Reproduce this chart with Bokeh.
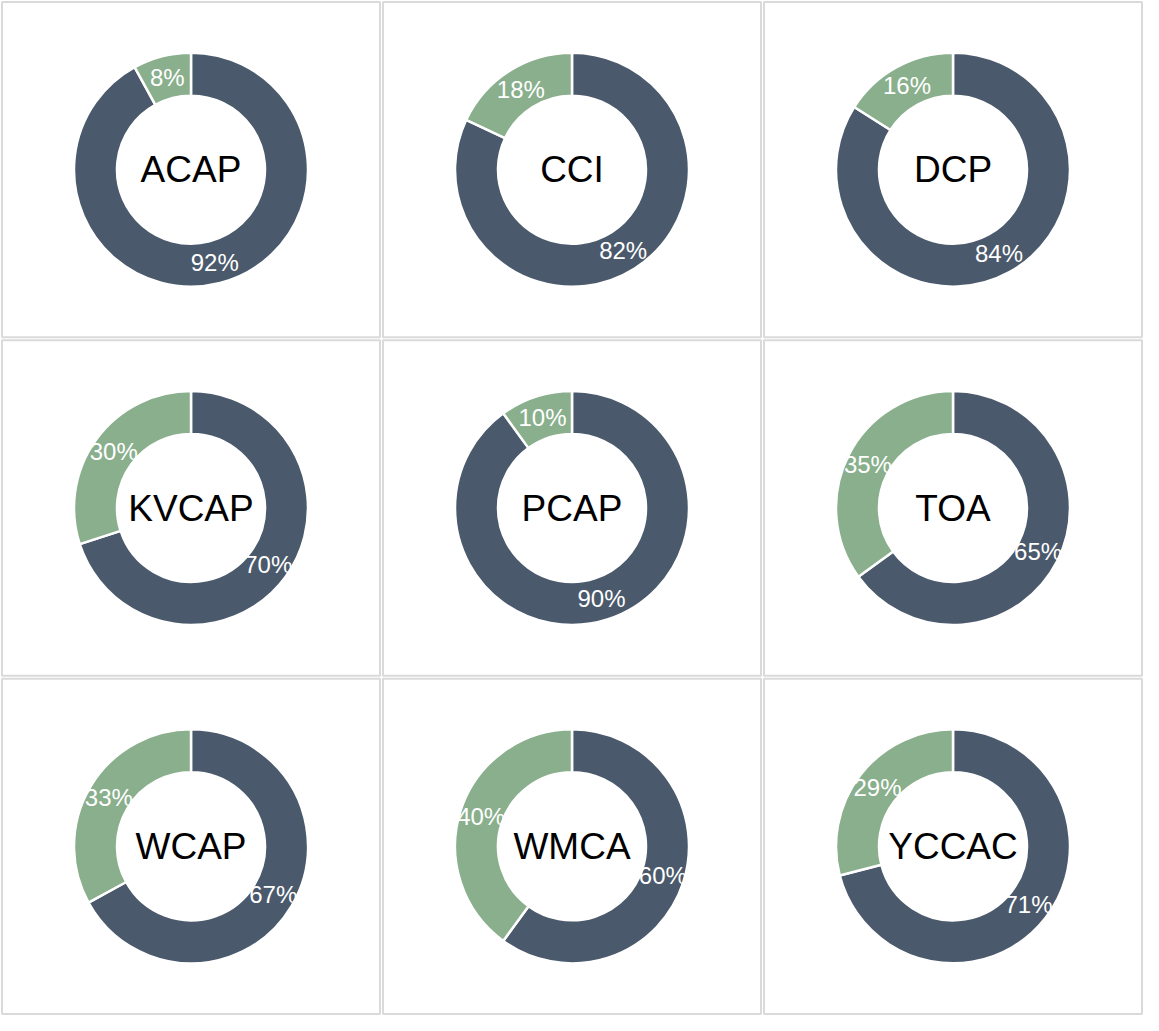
import math
from bokeh.plotting import figure
from bokeh.models import Range1d, ColumnDataSource
from bokeh.core.properties import value
from bokeh.embed import file_html
from bokeh.resources import INLINE

# ---- data ----
names = ["ACAP", "CCI", "DCP", "KVCAP", "PCAP", "TOA", "WCAP", "WMCA", "YCCAC"]
main_pct = [92, 82, 84, 70, 90, 65, 67, 60, 71]
other_pct = [8, 18, 16, 30, 10, 35, 33, 40, 29]

# ---- style ----
DARK = "#4a596b"
GREEN = "#8aaf8d"
BORDER = "#dadada"
FONT = "Liberation Sans"

W, H = 1143, 1015
NCOL = 3
cw, ch = W / NCOL, H / 3
R_OUT, R_IN = 117, 74
R_LAB = (R_OUT + R_IN) / 2

p = figure(width=W, height=H, output_backend="svg", toolbar_location=None,
           x_range=Range1d(0, W), y_range=Range1d(0, H), min_border=0)
p.axis.visible = False
p.grid.visible = False
p.outline_line_color = None
p.background_fill_color = "white"
p.border_fill_color = "white"

# boxes
lefts, rights, tops, bottoms = [], [], [], []
cx, cy = [], []
for k in range(len(names)):
    i, j = k % NCOL, k // NCOL
    lefts.append(i * cw + 1.5)
    rights.append((i + 1) * cw - 1.5)
    tops.append(H - j * ch - 1.5)
    bottoms.append(H - (j + 1) * ch + 1.5)
    cx.append((i + 0.5) * cw)
    cy.append(H - (j + 0.5) * ch)

p.quad(left=lefts, right=rights, top=tops, bottom=bottoms,
       fill_color=None, line_color=BORDER, line_width=2)

# wedges: main slice clockwise from 12 o'clock, other slice after it
ws = dict(x=[], y=[], start=[], end=[], color=[])
lab = dict(x=[], y=[], text=[])
for k in range(len(names)):
    tot = main_pct[k] + other_pct[k]
    a_main = 2 * math.pi * main_pct[k] / tot
    ws["x"] += [cx[k], cx[k]]
    ws["y"] += [cy[k], cy[k]]
    ws["start"] += [math.pi / 2 - a_main, math.pi / 2]
    ws["end"] += [math.pi / 2, math.pi / 2 + 2 * math.pi - a_main]
    ws["color"] += [DARK, GREEN]
    m1 = math.pi / 2 - a_main / 2
    m2 = math.pi / 2 + (2 * math.pi - a_main) / 2
    for m, v in ((m1, main_pct[k]), (m2, other_pct[k])):
        lab["x"].append(cx[k] + R_LAB * math.cos(m))
        lab["y"].append(cy[k] + R_LAB * math.sin(m))
        lab["text"].append(f"{v}%")

p.annular_wedge(x="x", y="y", inner_radius=R_IN, outer_radius=R_OUT,
                start_angle="start", end_angle="end", fill_color="color",
                line_color="white", line_width=2.5, source=ColumnDataSource(ws))

p.text(x="x", y="y", text="text", source=ColumnDataSource(lab),
       text_color="white", text_font=value(FONT), text_font_size=value("24px"),
       text_align="center", text_baseline="middle")

p.text(x=cx, y=cy, text=names, text_color="black", text_font=value(FONT),
       text_font_size=value("37px"), text_align="center", text_baseline="middle")

open("out.html", "w").write(file_html(p, INLINE))
